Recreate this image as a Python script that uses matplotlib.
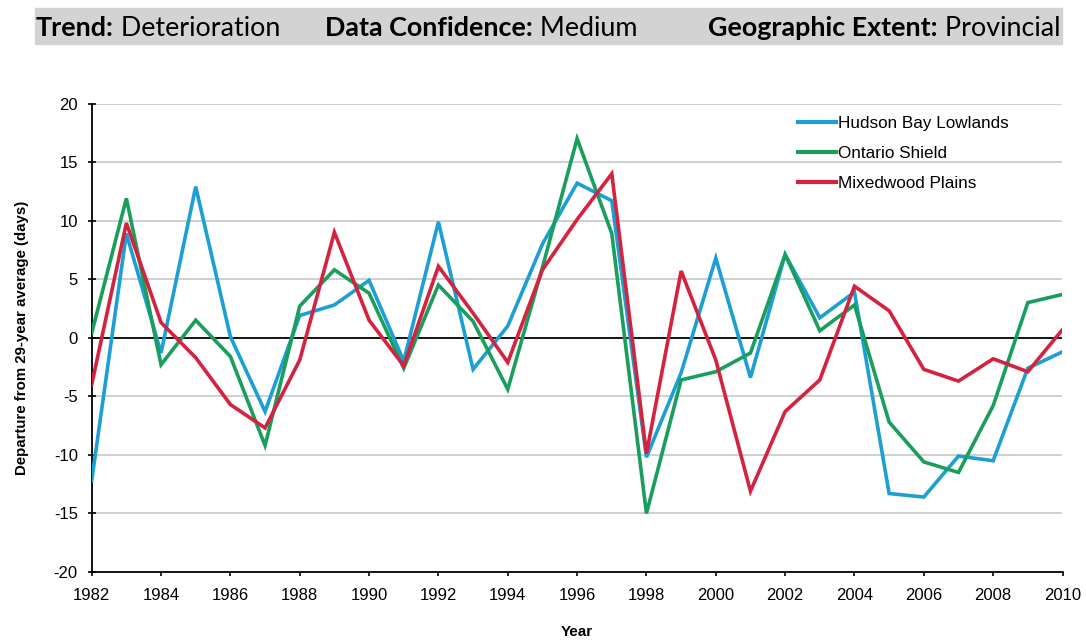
import matplotlib
matplotlib.use("Agg")
import matplotlib.pyplot as plt
from matplotlib.patches import Rectangle

years = list(range(1982, 2011))
hudson_bay = [-12.2, 8.9, -1.3, 12.9, 0.1, -6.3, 1.9, 2.8, 4.9, -2.0,
              9.9, -2.7, 1.0, 8.0, 13.2, 11.7, -10.2, -3.0, 6.8, -3.4,
              7.1, 1.7, 3.9, -13.3, -13.6, -10.1, -10.5, -2.6, -1.2]
ontario_shield = [0.4, 11.9, -2.3, 1.5, -1.6, -9.2, 2.7, 5.8, 3.8, -2.6,
                  4.5, 1.4, -4.4, 6.0, 17.0, 8.9, -15.0, -3.6, -2.9, -1.3,
                  7.1, 0.6, 2.8, -7.2, -10.6, -11.5, -5.8, 3.0, 3.7]
mixedwood = [-4.0, 9.8, 1.3, -1.7, -5.7, -7.7, -1.9, 9.0, 1.5, -2.4,
             6.1, 2.1, -2.1, 5.8, 10.1, 14.0, -9.9, 5.7, -1.9, -13.1,
             -6.3, -3.6, 4.4, 2.3, -2.7, -3.7, -1.8, -2.9, 0.7]
series_names = ["Hudson Bay Lowlands", "Ontario Shield", "Mixedwood Plains"]
series_colors = ["#1c9fd4", "#1a9e5c", "#d4223f"]
x_ticks = list(range(1982, 2011, 2))
y_ticks = list(range(-20, 21, 5))

W, H = 1086, 641
plt.rcParams['font.family'] = ['Liberation Sans', 'DejaVu Sans']
plt.rcParams['axes.unicode_minus'] = False
fig = plt.figure(figsize=(W / 100, H / 100), dpi=100)

ax = fig.add_axes([91.7 / W, 1 - 572 / H, (1062.5 - 91.7) / W, (572 - 103.5) / H])
for vals, name, col in zip([hudson_bay, ontario_shield, mixedwood], series_names, series_colors):
    ax.plot(years, vals, color=col, lw=2.6, label=name, zorder=3, solid_joinstyle='miter')

ax.set_xlim(1982, 2010)
ax.set_ylim(-20, 20)
ax.set_xticks(x_ticks)
ax.set_yticks(y_ticks)
for v in y_ticks:
    if v == 0:
        ax.axhline(0, color='black', lw=1.3, zorder=2)
    elif v != -20:
        ax.axhline(v, color='#cccccc', lw=1.3, zorder=1)
for s in ['top', 'right']:
    ax.spines[s].set_visible(False)
for s in ['left', 'bottom']:
    ax.spines[s].set_linewidth(1.3)
ax.tick_params(axis='y', direction='inout', length=6, width=1.2, pad=7, labelsize=12)
ax.tick_params(axis='x', direction='out', length=3, width=1.2, pad=8.5, labelsize=12)
ax.set_ylabel("Departure from 29-year average (days)", fontsize=10.8, fontweight='bold', labelpad=18)
ax.set_xlabel("Year", fontsize=11, fontweight='bold', labelpad=16)

leg = ax.legend(loc='upper left', bbox_to_anchor=(798 / W, 1 - 116 / H), bbox_transform=fig.transFigure,
                frameon=False, fontsize=12.3, handlelength=2.2, handletextpad=0.12, labelspacing=0.87,
                borderaxespad=0, borderpad=0)
for ln in leg.get_lines():
    ln.set_linewidth(3.0)

# header bar
fig.patches.append(Rectangle((35 / W, 1 - 43.5 / H), (1062 - 35) / W, 36 / H,
                             transform=fig.transFigure, color='#d3d3d3', zorder=0))
hdr = [("Trend:", " Deterioration", 36), ("Data Confidence:", " Medium", 325), ("Geographic Extent:", " Provincial", 708)]
fig.canvas.draw()
r = fig.canvas.get_renderer()
for b, n, x0 in hdr:
    t = fig.text(x0 / W, 1 - 36 / H, b, fontsize=19.4, fontweight='bold', family=['Lato', 'DejaVu Sans'], va='baseline')
    bb = t.get_window_extent(renderer=r)
    fig.text(bb.x1 / W, 1 - 36 / H, n, fontsize=19.4, family=['Lato', 'DejaVu Sans'], va='baseline')

fig.savefig("out.png", dpi=100)
